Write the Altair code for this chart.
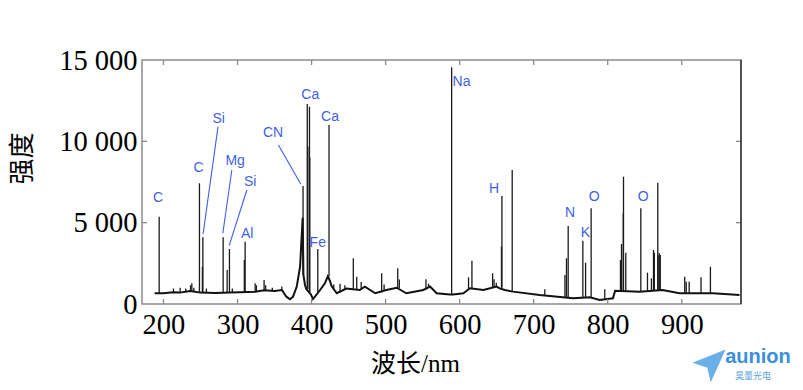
import altair as alt
import pandas as pd

# Continuum (background) of the LIBS spectrum: wavelength (nm) / intensity
cont_wl = [188, 200, 213, 222, 236, 250, 270, 290, 303, 324, 336, 350, 360, 366, 371, 375,
           380, 384.5, 386.7, 388, 389, 391, 393, 399, 402, 411.5, 418, 422, 425, 427, 434,
           447, 456, 465, 472, 486, 501, 515, 528, 551, 560, 569, 587, 591, 605, 614, 632,
           650, 654, 661, 672, 708, 753, 776, 789, 807, 810, 843, 874, 897, 942, 978]
cont_int = [660, 660, 720, 700, 800, 700, 680, 700, 720, 760, 850, 800, 860, 450, 290, 450,
            1070, 2290, 4200, 5300, 1800, 1200, 900, 600, 300, 860, 1270, 1700, 1400, 1100, 660,
            950, 900, 860, 1070, 660, 860, 1000, 660, 860, 1070, 660, 580, 580, 660, 965, 860,
            1070, 960, 860, 760, 550, 350, 410, 250, 350, 820, 760, 860, 660, 660, 550]

# Emission lines: wavelength, peak intensity, intensity at the foot of the line
peak_wl = [194.2, 213.5, 222.5, 230, 236.5, 238.3, 241, 248.6, 252.6, 253.2, 258, 280.6,
           286.0, 289.1, 293, 309.2, 310.3, 323.8, 325.5, 335.9, 338, 347, 359.8, 388.5,
           394.2, 395.0, 397.2, 397.6, 408.4, 423.6, 430, 438.5, 445, 456.4, 461, 467,
           494.7, 498, 516.4, 518.5, 554.5, 558, 589.2, 612, 616.6, 644.5, 646.5, 649.5,
           656.5, 657.1, 671, 715, 742.2, 744.3, 746.6, 766.4, 770.1, 777.6, 796, 817.2,
           818.6, 821.0, 821.3, 824.4, 844.7, 853.7, 859, 861.8, 863, 867.6, 867.9, 869.6,
           871, 904, 906, 910, 926, 938.7]
peak_top = [5367, 950, 1000, 950, 1150, 1270, 1000, 7420, 2290, 4100, 950, 4100,
            2090, 3380, 950, 2700, 3830, 1270, 1150, 1475, 1150, 1000, 1070, 7255,
            12296, 9670, 12130, 9000, 3380, 11005, 1200, 1250, 1150, 2810, 1680, 1350,
            1890, 1200, 2195, 1500, 1520, 1250, 14552, 1640, 2660, 1890, 1520, 1300,
            3520, 6640, 8238, 900, 1780, 2810, 4795, 3895, 2540, 5883, 900, 2700,
            3690, 5576, 7826, 3150, 5883, 1925, 1580, 3320, 3150, 7458, 3000, 3115,
            3010, 1680, 1370, 1370, 1640, 2290]
peak_base = [660, 700, 700, 700, 780, 780, 760, 700, 700, 700, 700, 690,
             700, 700, 700, 720, 720, 760, 760, 850, 850, 820, 860, 1800,
             900, 900, 700, 700, 700, 1700, 900, 700, 900, 900, 880, 900,
             700, 800, 1000, 980, 900, 1000, 580, 900, 950, 1000, 1000, 1050,
             1000, 1000, 760, 530, 380, 380, 370, 420, 420, 400, 300, 820,
             820, 820, 820, 800, 760, 780, 800, 820, 820, 850, 850, 850,
             850, 680, 680, 670, 660, 660]

# Element labels
label_text = ["C", "C", "Si", "Mg", "Si", "Al", "CN", "Ca", "Fe", "Ca", "Na",
              "H", "N", "K", "O", "O"]
label_wl = [192.8, 247.5, 274.5, 296.8, 317.2, 313.0, 348.0, 398.2, 408.4, 425.0, 602.5,
            646.4, 749.3, 769.8, 781.8, 848.0]
label_int = [6500, 8350, 11400, 8800, 7500, 4300, 10500, 12850, 3750, 11500, 13650,
             7100, 5600, 4350, 6600, 6600]

# Leader lines from labels to their lines
lead_wl1 = [273.7, 292.3, 312.6, 355.2]
lead_int1 = [10900, 8238, 7009, 9775]
lead_wl2 = [253.5, 280.2, 288.7, 385.4]
lead_int2 = [4304, 4347, 3584, 7378]

x_ticks = [200, 300, 400, 500, 600, 700, 800, 900]
y_ticks = [0, 5000, 10000, 15000]

W, H = 599, 244
XDOM = [171, 980]
YDOM = [0, 15000]
SERIF = "Liberation Serif, Times New Roman, Noto Sans CJK SC"
BLUE = "#3f5fe3"

x_axis = alt.Axis(values=x_ticks, ticks=False, domain=False, grid=False,
                  labelFont=SERIF, labelFontSize=28.5, labelColor="black", labelPadding=6,
                  labelFlush=False, titleFont=SERIF, titleFontSize=25, titleFontWeight="normal",
                  titleColor="black", titleX=273, titleY=59, titleBaseline="middle")
y_axis = alt.Axis(values=y_ticks, ticks=False, domain=False, grid=False,
                  labelFont=SERIF, labelFontSize=28.5, labelColor="black", labelPadding=5,
                  labelFlush=False, labelExpr="replace(format(datum.value, ','), ',', ' ')",
                  titleFont="Noto Sans CJK SC", titleFontSize=26, titleFontWeight="normal",
                  titleColor="black", titleX=-120, titleY=98, titleBaseline="middle")


def xq(field):
    return alt.X(field, type="quantitative", scale=alt.Scale(domain=XDOM, nice=False, zero=False),
                 axis=x_axis, title="波长/nm")


def yq(field):
    return alt.Y(field, type="quantitative", scale=alt.Scale(domain=YDOM, nice=False),
                 axis=y_axis, title="强度")


cont = pd.DataFrame({"wl": cont_wl, "I": cont_int})
peaks = pd.DataFrame({"wl": peak_wl, "top": peak_top, "base": peak_base})
labels = pd.DataFrame({"name": label_text, "wl": label_wl, "I": label_int})
leads = pd.DataFrame({"wl": lead_wl1, "I": lead_int1, "wl2": lead_wl2, "I2": lead_int2})
xt = pd.DataFrame({"wl": x_ticks})
yt = pd.DataFrame({"I": [5000, 10000]})
one = pd.DataFrame({"k": [0]})

continuum = alt.Chart(cont).mark_line(color="#111111", strokeWidth=2).encode(
    x=xq("wl"), y=yq("I"))

lines = alt.Chart(peaks).mark_rule(color="#1a1a1a", strokeWidth=1.3).encode(
    x=xq("wl"), y=yq("top"), y2="base")

leaders = alt.Chart(leads).mark_rule(color=BLUE, strokeWidth=1.1).encode(
    x=xq("wl"), y=yq("I"), x2="wl2", y2="I2")

names = alt.Chart(labels).mark_text(font="Liberation Sans, Arial", fontSize=14,
                                    color=BLUE, baseline="middle", align="center").encode(
    x=xq("wl"), y=yq("I"), text="name")

# inward tick marks on all four sides of the frame
tick_bottom = alt.Chart(xt).mark_rule(color="#888888", strokeWidth=1.3).encode(
    x=xq("wl"), y=alt.value(H), y2=alt.value(H - 5))
tick_top = alt.Chart(xt).mark_rule(color="#888888", strokeWidth=1.3).encode(
    x=xq("wl"), y=alt.value(0), y2=alt.value(5))
tick_left = alt.Chart(yt).mark_rule(color="#888888", strokeWidth=1.3).encode(
    y=yq("I"), x=alt.value(0), x2=alt.value(5))
tick_right = alt.Chart(yt).mark_rule(color="#888888", strokeWidth=1.3).encode(
    y=yq("I"), x=alt.value(W), x2=alt.value(W - 5))
right_edge = alt.Chart(one).mark_rule(color="#222222", strokeWidth=1.3).encode(
    x=alt.value(W), y=alt.value(0), y2=alt.value(H))

# company mark in the lower right corner
logo_icon = alt.Chart(one).mark_point(
    shape="M1,-1L-1,-0.2L-0.1,0.1L0.1,1Z", filled=True, color="#5aa6e6", size=1100, opacity=0.9
).encode(x=alt.value(567), y=alt.value(306))
logo_word = alt.Chart(one).mark_text(
    text="aunion", font="Liberation Sans, Arial", fontSize=20, fontWeight="bold",
    color="#3b8fdc", align="center", baseline="middle"
).encode(x=alt.value(616), y=alt.value(297))
logo_cn = alt.Chart(one).mark_text(
    text="昊量光电", font="Noto Sans CJK SC", fontSize=9, color="#5a9fe0",
    align="center", baseline="middle"
).encode(x=alt.value(611), y=alt.value(316))

chart = alt.layer(
    continuum, lines, leaders, names, tick_bottom, tick_top, tick_left, tick_right,
    right_edge, logo_icon, logo_word, logo_cn
).properties(
    width=W, height=H,
    padding={"left": 142, "top": 60, "right": 62, "bottom": 86},
    autosize=alt.AutoSizeParams(type="none"),
    background="white",
).configure_view(stroke="#8c8c8c", strokeWidth=1.5)

chart.save("out.html", embed_options={"renderer": "svg", "actions": False})
